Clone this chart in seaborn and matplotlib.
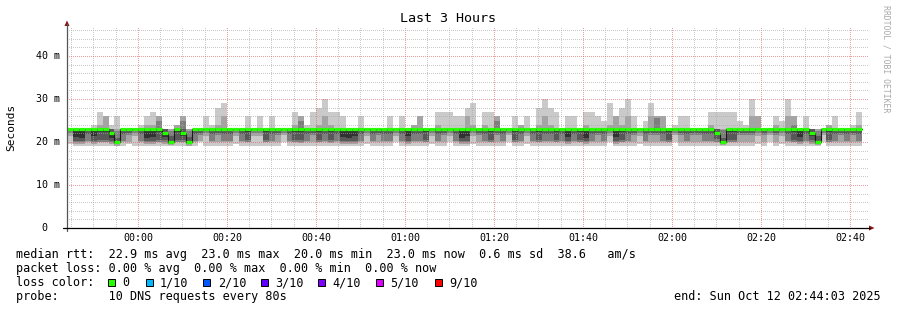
import numpy as np
import pandas as pd
import matplotlib
matplotlib.use("Agg")
import matplotlib.pyplot as plt
from matplotlib.patches import Polygon, Rectangle
from matplotlib.lines import Line2D
from matplotlib.transforms import blended_transform_factory
import seaborn as sns

# ---------------- data (10 pings per 80 s step, sorted, in ms) ----------------
step_min = 80 / 60.0          # one step = 80 s
window_start = -15.95         # 23:44:03 as minutes relative to 00:00

ping_1 = [19.5,19,19,19,19,19,19,19,19,19,
          19.6,19,19,19,19,19,19,19,19,19,
          19,19,20,19,19,19,19,19,19.5,19,
          19,19,19,19,19,19,20,19,19,19,
          19,19,19,19,19,19,19,19,19,19,
          19.6,19,19,19,19,20,19,19,19,19,
          19,19.5,19,19,20,19,19,19,19.6,19,
          19,19,19,19,20,19,19,19.5,19,19,
          19,19,19,19,19,19,19,19,19,19,
          19,20,19,19,19,19,19.6,19,19,19,
          19,19,20,19,19,19,19,19,19,19,
          19,19,19,19,19,19,19.6,19,20,19,
          19.5,19,19,19,19,19,19,20,19,19,
          19,19,19,19]
ping_2 = [21.5,19.5,19.5,20,19.5,20,20,19.5,19,20,
          20,21.5,20,19.5,19.5,20,19.5,19.2,20,20,
          19,20,20.2,21.5,20,20,20,20,21.5,20,
          20,21.5,21.3,20,20,20,21.6,20,20,19.8,
          20,20,20,20,19.8,20,19.5,19.5,19.5,20,
          21.5,20,20,20,20,21.5,20,19.5,20,20,
          20,21.5,20,20,21.5,20,19.5,19.5,21.5,20,
          20,20,20,20,21.6,20,20,21.5,20,20,
          20,20,20,20,19.5,20,20,19.5,20,20,
          20,21.5,19.5,20,20,20,21.5,20,20,20,
          20,20,21.6,20,20,20,20,20,20,20,
          19.4,20,20,20,20,20,21.5,20,21.6,20,
          21.5,20,20,19.5,20,19.5,19.2,21.6,20,20,
          20,20,20,20]
ping_3 = [22.2,20,20,20.3,20,20,20,20,19.5,20.3,
          21.6,22.2,20.3,20,20,20,20,19.5,20,20,
          19.6,20.3,21.6,22.2,20.3,21.6,20.3,20.3,22.2,20.3,
          20,22.2,22.2,20,20.3,21.6,22.2,20.3,20,20,
          20.3,21.6,20,20.3,20,20.3,20,20,20,20.3,
          22.2,20.3,21.6,20.3,20.3,22.2,20.3,20,20.3,20.3,
          20,22.2,20.3,21.6,22.2,20.3,20,20,22.2,21.6,
          20.3,20,21.6,20.3,22.2,20,20.3,22.2,20.3,20,
          20.3,20.3,20,20.3,20,20.3,20,20,20.3,21.6,
          20.3,22.2,20,20,20.3,21.6,22.2,20.3,21.6,21.6,
          20.3,20,22.2,21.6,20.3,21.6,21.6,20.3,20.3,20,
          19.7,20,20,21.6,21.6,21.6,22.2,21.6,22.2,21.6,
          22.2,20.3,20,20,20.3,20,19.6,22.2,20,20.3,
          21.6,20.3,21.6,20.3]
ping_4 = [22.5,20.3,20.3,21.8,20.3,20.5,20.5,20.2,19.8,21.8,
          22.2,22.5,21.8,20.3,20.3,20.5,20.5,20,20.5,20.5,
          20,21.8,22.2,22.5,21.8,22.2,21.8,21.8,22.5,21.8,
          20.5,22.5,22.5,20.5,21.8,22.2,22.5,21.8,20.5,20.5,
          21.8,22.2,20.5,21.8,20.5,21.8,20.3,20.3,20.3,21.8,
          22.5,21.8,22.2,21.8,21.8,22.5,21.8,20.3,21.8,21.8,
          20.5,22.5,21.8,22.2,22.5,21.8,20.3,20.3,22.5,22.2,
          21.8,20.5,22.2,21.8,22.5,20.5,21.8,22.5,21.8,20.5,
          21.8,21.8,20.5,21.8,20.3,21.8,20.5,20.3,21.8,22.2,
          21.8,22.5,20.3,20.5,21.8,22.2,22.5,21.8,22.2,22.2,
          21.8,20.5,22.5,22.2,21.8,22.2,22.2,21.8,21.8,20.6,
          20,20.5,20.5,22.2,22.2,22.2,22.5,22.2,22.5,22.2,
          22.5,21.8,20.5,20.3,21.8,20.4,20,22.5,20.5,21.8,
          22.2,21.8,22.2,21.8]
ping_5 = [22.7,21.2,21.0,22.6,21.3,22.4,22.4,21,20,22.6,
          22.7,22.7,22.6,21.0,21.2,22.4,21.2,20,22.4,21.5,
          20,22.6,22.7,22.7,22.6,22.7,22.6,22.6,22.7,22.6,
          22.4,22.7,22.7,22.4,22.6,22.7,22.7,22.6,22.4,22.4,
          22.6,22.7,22.4,22.6,22.4,22.6,21.2,21.0,21.4,22.6,
          22.7,22.6,22.7,22.6,22.6,22.7,22.6,21.3,22.6,22.6,
          22.4,22.7,22.6,22.7,22.7,22.6,21.0,21.3,22.7,22.7,
          22.6,22.4,22.7,22.6,22.7,22.4,22.6,22.7,22.6,22.4,
          22.6,22.6,22.4,22.6,21.2,22.6,22.4,21.0,22.6,22.7,
          22.6,22.7,21.2,22.4,22.6,22.7,22.7,22.6,22.7,22.7,
          22.6,22.4,22.7,22.7,22.6,22.7,22.7,22.6,22.6,21.6,
          20,22.4,22.4,22.7,22.7,22.7,22.7,22.7,22.7,22.7,
          22.7,22.6,22.4,21.2,22.6,21.3,20,22.7,22.4,22.6,
          22.7,22.6,22.7,22.6]
median_rtt = [23,23,23,23,23,23,23,22,20,23,
              23,23,23,23,23,23,22,20,23,22,
              20,23,23,23,23,23,23,23,23,23,
              23,23,23,23,23,23,23,23,23,23,
              23,23,23,23,23,23,23,23,23,23,
              23,23,23,23,23,23,23,23,23,23,
              23,23,23,23,23,23,23,23,23,23,
              23,23,23,23,23,23,23,23,23,23,
              23,23,23,23,23,23,23,23,23,23,
              23,23,23,23,23,23,23,23,23,23,
              23,23,23,23,23,23,23,23,23,22,
              20,23,23,23,23,23,23,23,23,23,
              23,23,23,23,23,22,20,23,23,23,
              23,23,23,23]
ping_7 = [23,23,23,23,23,23,23,23,21,23,
          23,23,23,23,23,23,23,21.5,23,23,
          21.2,23,23,23,23,23,23,23,23,23,
          23,23,23,23,23,23,23,23,23,23,
          23,23,23,23,23,23,23,23,23,23,
          23,23,23,23,23,23,23,23,23,23,
          23,23,23,23,23,23,23,23,23,23,
          23,23,23,23,23,23,23,23,23,23,
          23,23,23,23,23,23,23,23,23,23,
          23,23,23,23,23,23,23,23,23,23,
          23,23,23,23,23,23,23,23,23,23,
          21,23,23,23,23,23,23,23,23,23,
          23,23,23,23,23,23,21.4,23,23,23,
          23,23,23,23]
ping_8 = [23,23,23,23,23,23,23,23,22.5,23,
          23,23,23,23,23,25,23,22.6,23,25,
          22.5,23,23,23,23,23,23,23,23,23,
          23,23,23,23,23,23,23,23,23,25,
          23,23,23,23,23,23,23,23,23,23,
          23,23,23,23,23,23,23,23,23,23,
          23,23,23,23,23,23,23,23,23,23,
          23,23,25,23,23,23,23,23,23,23,
          23,23,23,23,23,23,23,23,23,23,
          23,23,23,23,23,23,23,23,23,25.5,
          23,23,23,23,23,23,23,23,23,23,
          22.7,23,23,23,23,23,23,23,23,23,
          23,23,24,23,23,23,22.6,23,23,23,
          23,23,23,23]
ping_9 = [23,23,23,23,23,24,26,23,23,23,
          23,23,23,24,24,26,23,23,24,26,
          23,23,23,23,23,24,26,23,23,23,
          23,23,23,23,23,23,23,23,24,26,
          23,23,24,26,24,23,23,23,23,23,
          23,23,23,23,23,23,23,23,24,26,
          23,23,24,23,23,23,23,26,24,23,
          24,23,26,23,23,23,24,23,23,24,
          26,24,23,23,23,23,23,24,23,23,
          23,24,26,24,26,23,23,23,26,26,
          26,23,23,23,23,23,23,23,24,23,
          23,23,23,23,23,26,26,23,23,24,
          23,26,26,23,23,23,23,23,24,23,
          23,23,23,24]
ping_10 = [23,23,23,23,24,27,26,24,26,23,
           23,23,24,26,27,26,23,23,24,26,
           23,23,23,26,24,28,29,23,23,23,
           26,23,26,23,26,23,23,23,27,26,
           24,27,28,30,27,27,26,23,23,26,
           23,23,23,23,26,23,26,23,24,26,
           23,23,27,27,27,26,26,28,29,23,
           27,27,26,23,23,26,24,26,23,28,
           30,28,27,23,26,26,23,27,27,26,
           25,29,26,28,30,26,23,25,29,26,
           26,23,24,26,26,23,23,23,27,27,
           27,27,27,25,24,30,26,23,23,26,
           25,30,26,23,26,23,23,23,24,26,
           23,23,24,27]

x_major = [0, 20, 40, 60, 80, 100, 120, 140, 160]
x_labels = ["00:00", "00:20", "00:40", "01:00", "01:20", "01:40", "02:00", "02:20", "02:40"]
y_major = [0, 10, 20, 30, 40]
y_labels = [" 0", "10 m", "20 m", "30 m", "40 m"]

smoke_colors = ["#cacaca", "#a4a4a4", "#7e7e7e", "#585858", "#323232"]
loss_labels = ["0", "1/10", "2/10", "3/10", "4/10", "5/10", "9/10"]
loss_colors = ["#26ff00", "#00b8ff", "#0059ff", "#5e00ff", "#7e00ff", "#dd00ff", "#ff0000"]

legend_lines = [
    "median rtt:  22.9 ms avg  23.0 ms max  20.0 ms min  23.0 ms now  0.6 ms sd  38.6   am/s",
    "packet loss: 0.00 % avg  0.00 % max  0.00 % min  0.00 % now",
    "loss color:",
    "probe:       10 DNS requests every 80s",
]
end_text = "end: Sun Oct 12 02:44:03 2025"

# ---------------- styling ----------------
sns.set_theme(style="white")
plt.rcParams['font.family'] = ['DejaVu Sans Mono']

W, H = 897, 310
def fx(x):
    return x / W
def fy(y):
    return 1 - y / H

fig = plt.figure(figsize=(W / 100, H / 100), dpi=100)
fig.patch.set_facecolor("white")
ax = fig.add_axes([fx(67), fy(228), (868 - 67) / W, (228 - 27) / H])
ax.set_facecolor("white")
for s in ax.spines.values():
    s.set_visible(False)

n = len(median_rtt)
t = window_start + step_min * np.arange(n)
edges = np.append(t, t[-1] + step_min)

pings = np.sort(np.vstack([ping_1, ping_2, ping_3, ping_4, ping_5,
                           median_rtt, ping_7, ping_8, ping_9, ping_10]), axis=0)

for k in range(5):
    lo = np.append(pings[k], pings[k][-1])
    hi = np.append(pings[9 - k], pings[9 - k][-1])
    ax.fill_between(edges, lo, hi, step="post", color=smoke_colors[k], lw=0, zorder=1)

med = np.array(median_rtt, dtype=float)
df = pd.DataFrame({"t": edges, "median": np.append(med, med[-1])})
sns.lineplot(data=df, x="t", y="median", drawstyle="steps-post", color="#1a1a1a",
             lw=0.8, ax=ax, zorder=2.8, estimator=None, sort=False, legend=False)
ax.hlines(med, t, t + step_min, colors=loss_colors[0], lw=2.3, zorder=3)

ax.set_xlim(window_start, window_start + 180)
ax.set_ylim(0, (228 - 27) / 4.3)

x_minor = [v for v in np.arange(-15, 165, 5) if v % 20 != 0]
y_minor = [v for v in np.arange(2, 47, 2) if v % 10 != 0]
ax.set_xticks(x_major)
ax.set_xticklabels(x_labels)
ax.set_xticks(x_minor, minor=True)
ax.set_yticks(y_major)
ax.set_yticks(y_minor, minor=True)
ax.set_yticklabels([])
ax.grid(True, which="major", color="#e06060", alpha=0.6, lw=0.72, ls=(0, (1, 1.2)),
        antialiased=False)
ax.grid(True, which="minor", color="#a8a8a8", alpha=0.6, lw=0.72, ls=(0, (1, 1.2)),
        antialiased=False)
ax.set_axisbelow(False)
ax.tick_params(which="both", length=0)
ax.tick_params(axis="x", labelsize=7.2, pad=3.4, colors="#000000")
ax.set_xlabel("")
ax.set_ylabel("")

ytr = blended_transform_factory(fig.transFigure, ax.transData)
for v, lab in zip(y_major, y_labels):
    fig.text(fx(36), v, lab, transform=ytr, ha="left", va="center", fontsize=7.2, color="#000000")

# axes lines and arrows
fig.add_artist(Line2D([fx(67), fx(67)], [fy(231), fy(24)], color="#555555", lw=0.9))
fig.add_artist(Line2D([fx(63), fx(870)], [fy(228), fy(228)], color="#000000", lw=0.9))
fig.add_artist(Polygon([[fx(64.5), fy(26)], [fx(69.5), fy(26)], [fx(67), fy(20.5)]],
                       closed=True, color="#8b1010", lw=0))
fig.add_artist(Polygon([[fx(869), fy(225.5)], [fx(869), fy(230.5)], [fx(874.5), fy(228)]],
                       closed=True, color="#8b1010", lw=0))

# texts
fig.text(fx(448), fy(19), "Last 3 Hours", ha="center", va="center", fontsize=9.6, color="#000000")
fig.text(fx(11), fy(127), "Seconds", rotation=90, ha="center", va="center", fontsize=8.0, color="#000000")
fig.text(fx(886), fy(5), "RRDTOOL / TOBI OETIKER", rotation=270, ha="center", va="top",
         fontsize=5.9, color="#a8a8a8")

line_y = [254.5, 268.5, 282.5, 296.5]
for txt, yy in zip(legend_lines, line_y):
    fig.text(fx(16), fy(yy), txt, ha="left", va="center", fontsize=8.5, color="#000000")
fig.text(fx(881), fy(296.5), end_text, ha="right", va="center", fontsize=8.5, color="#000000")

box_x = [108.3, 145.7, 203.3, 261.0, 318.3, 376.0, 435.0]
for bx, lab, col in zip(box_x, loss_labels, loss_colors):
    fig.add_artist(Rectangle((fx(bx), fy(286.2)), 7 / W, 7 / H, transform=fig.transFigure,
                             facecolor=col, edgecolor="#000000", lw=0.7))
    fig.text(fx(bx + 14.4), fy(282.5), lab, ha="left", va="center", fontsize=8.5, color="#000000")

fig.savefig("out.png", dpi=100, facecolor="white")
